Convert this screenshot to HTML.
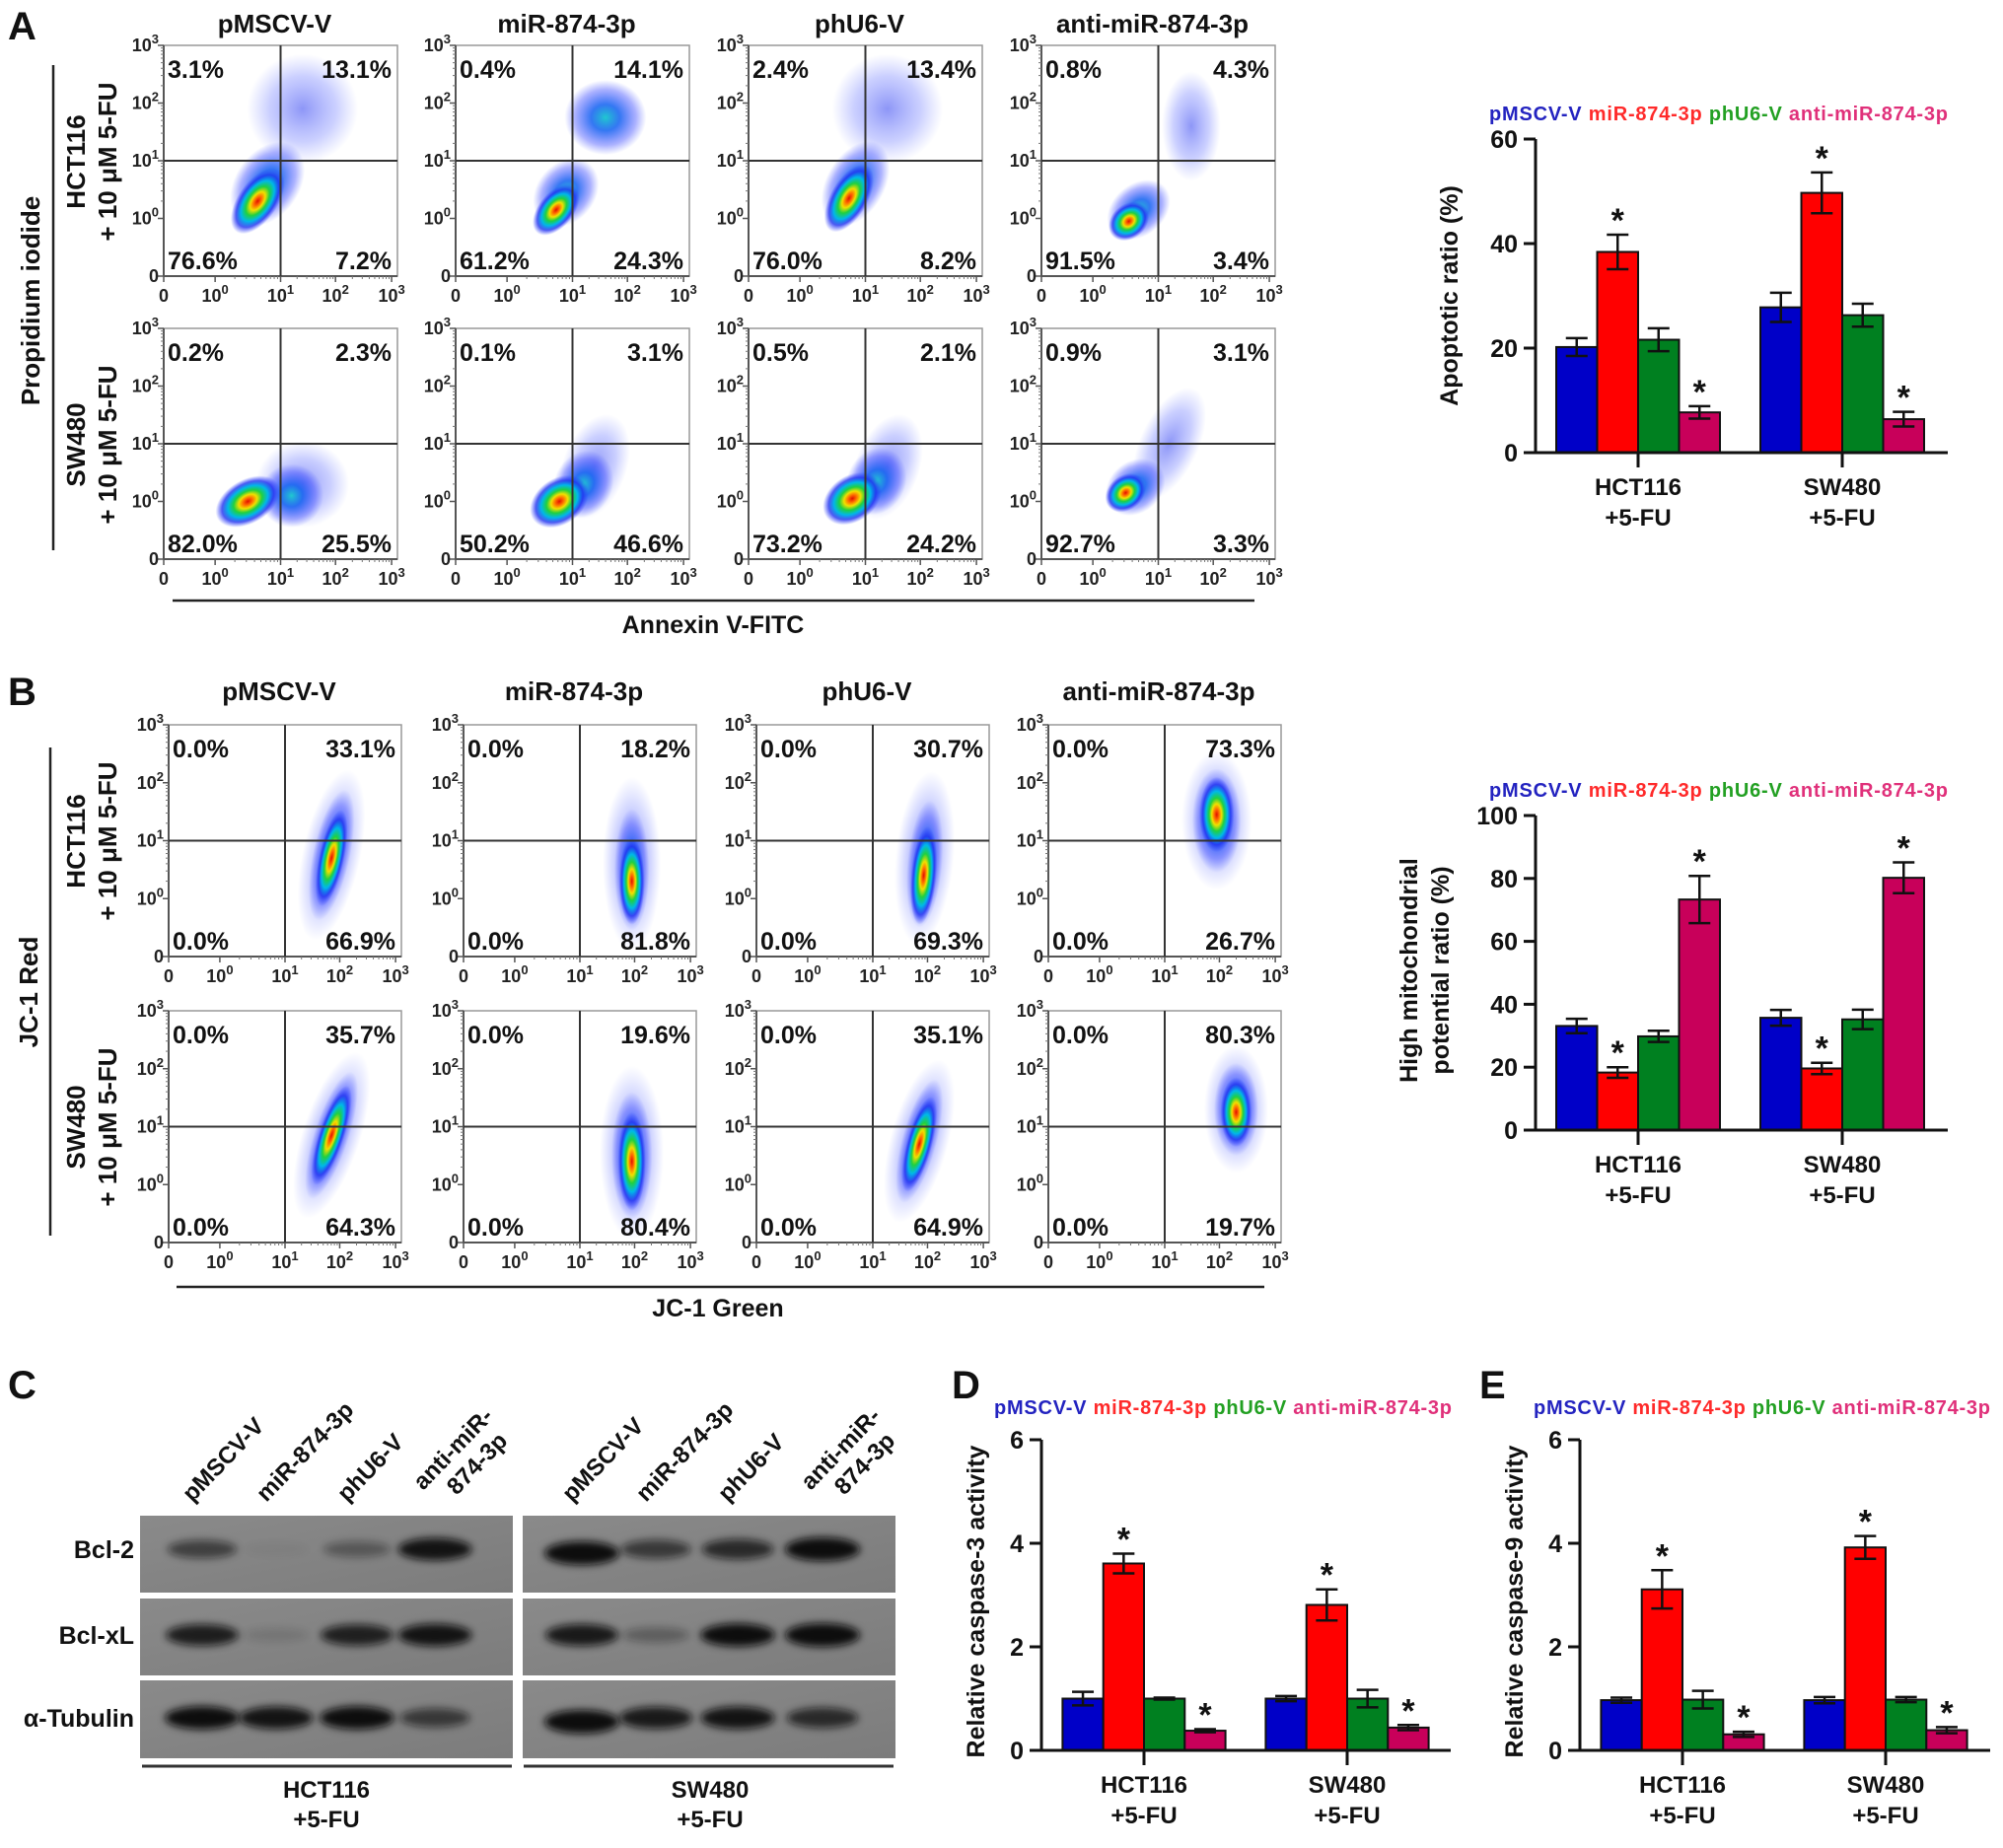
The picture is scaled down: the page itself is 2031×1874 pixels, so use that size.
<!DOCTYPE html>
<html><head><meta charset="utf-8"><title>miR-874-3p apoptosis figure</title>
<style>
html,body{margin:0;padding:0;background:#fff;}
svg{display:block;font-family:"Liberation Sans",Arial,sans-serif;}
</style></head>
<body>
<svg id="fig" xmlns="http://www.w3.org/2000/svg" width="2031" height="1874" viewBox="0 0 2031 1874">
<defs>
<radialGradient id="gCore" cx="50%" cy="50%" r="50%">
<stop offset="0" stop-color="#e01000"/>
<stop offset="0.14" stop-color="#ff6a00"/>
<stop offset="0.28" stop-color="#f0e000"/>
<stop offset="0.44" stop-color="#20d040"/>
<stop offset="0.62" stop-color="#00b8e8"/>
<stop offset="0.8" stop-color="#2030f0" stop-opacity="0.8"/>
<stop offset="1" stop-color="#3040ff" stop-opacity="0"/>
</radialGradient>
<radialGradient id="gMid" cx="50%" cy="50%" r="50%">
<stop offset="0" stop-color="#20c8d0"/>
<stop offset="0.35" stop-color="#1060f0" stop-opacity="0.85"/>
<stop offset="0.75" stop-color="#3040ff" stop-opacity="0.4"/>
<stop offset="1" stop-color="#4050ff" stop-opacity="0"/>
</radialGradient>
<radialGradient id="gHalo" cx="50%" cy="50%" r="50%">
<stop offset="0" stop-color="#3040f0" stop-opacity="0.55"/>
<stop offset="0.6" stop-color="#5060ff" stop-opacity="0.3"/>
<stop offset="1" stop-color="#6070ff" stop-opacity="0"/>
</radialGradient>
<filter id="blur" x="-50%" y="-100%" width="200%" height="300%"><feGaussianBlur stdDeviation="4"/></filter>
<linearGradient id="blotBg" x1="0" y1="0" x2="1" y2="1">
<stop offset="0" stop-color="#8a8a8a"/><stop offset="0.5" stop-color="#838383"/><stop offset="1" stop-color="#7c7c7c"/>
</linearGradient>
</defs>
</svg>
<script>
// ---------------- DATA ----------------
const seriesNames = ["pMSCV-V", "miR-874-3p", "phU6-V", "anti-miR-874-3p"];
const groupNames = ["HCT116", "SW480"];
// Panel A bar chart: apoptotic ratio (%)
const apopMean = [[20.2, 38.4, 21.6, 7.7], [27.8, 49.7, 26.3, 6.4]];
const apopErr  = [[1.7, 3.3, 2.2, 1.2], [2.8, 3.9, 2.2, 1.4]];
const apopSig  = [[0, 1, 0, 1], [0, 1, 0, 1]];
const apopTicks = [0, 20, 40, 60];
// Panel B bar chart: high mitochondrial potential ratio (%)
const mitoMean = [[33.1, 18.3, 29.8, 73.3], [35.7, 19.6, 35.2, 80.2]];
const mitoErr  = [[2.3, 1.7, 1.8, 7.5], [2.5, 1.8, 3.1, 4.9]];
const mitoSig  = [[0, 1, 0, 1], [0, 1, 0, 1]];
const mitoTicks = [0, 20, 40, 60, 80, 100];
// Panel D: relative caspase-3 activity
const casp3Mean = [[1.0, 3.61, 1.0, 0.38], [1.0, 2.81, 1.0, 0.44]];
const casp3Err  = [[0.13, 0.19, 0.02, 0.03], [0.05, 0.30, 0.17, 0.05]];
const casp3Sig  = [[0, 1, 0, 1], [0, 1, 0, 1]];
const caspTicks = [0, 2, 4, 6];
// Panel E: relative caspase-9 activity
const casp9Mean = [[0.97, 3.11, 0.98, 0.31], [0.97, 3.92, 0.98, 0.39]];
const casp9Err  = [[0.05, 0.37, 0.17, 0.05], [0.06, 0.22, 0.05, 0.06]];
const casp9Sig  = [[0, 1, 0, 1], [0, 1, 0, 1]];
// Flow quadrant percentages [UL, UR, LL, LR]
const annexinPct = [
 [[3.1,13.1,76.6,7.2],[0.4,14.1,61.2,24.3],[2.4,13.4,76.0,8.2],[0.8,4.3,91.5,3.4]],
 [[0.2,2.3,82.0,25.5],[0.1,3.1,50.2,46.6],[0.5,2.1,73.2,24.2],[0.9,3.1,92.7,3.3]]
];
const jc1Pct = [
 [[0.0,33.1,0.0,66.9],[0.0,18.2,0.0,81.8],[0.0,30.7,0.0,69.3],[0.0,73.3,0.0,26.7]],
 [[0.0,35.7,0.0,64.3],[0.0,19.6,0.0,80.4],[0.0,35.1,0.0,64.9],[0.0,80.3,0.0,19.7]]
];
// Flow density blobs [cx, cy (log-decade units 0..4), rx, ry (decades), tiltDeg, kind]
const annexinBlobs = [
 [[[2.4,2.9,0.95,0.95,0,'h'],[1.8,1.6,0.55,0.8,35,'m'],[1.65,1.3,0.34,0.65,35,'c']],
  [[2.6,2.75,0.7,0.65,0,'m'],[1.9,1.45,0.5,0.65,40,'m'],[1.75,1.15,0.3,0.52,40,'c']],
  [[2.4,2.9,0.95,0.95,0,'h'],[1.85,1.6,0.5,0.8,30,'m'],[1.75,1.35,0.32,0.65,30,'c']],
  [[2.6,2.6,0.5,0.95,0,'h'],[1.7,1.15,0.6,0.45,-40,'m'],[1.55,0.95,0.38,0.3,-40,'c']]],
 [[[2.4,1.3,0.8,0.75,0,'h'],[2.2,1.1,0.55,0.55,-30,'m'],[1.5,1.0,0.6,0.38,-30,'c']],
  [[2.4,1.6,0.55,0.95,20,'h'],[2.2,1.3,0.5,0.6,25,'m'],[1.8,1.0,0.55,0.4,-35,'c']],
  [[2.4,1.6,0.55,0.95,20,'h'],[2.2,1.35,0.5,0.6,25,'m'],[1.8,1.05,0.55,0.4,-35,'c']],
  [[2.2,2.0,0.5,1.05,25,'h'],[1.65,1.25,0.55,0.45,-40,'m'],[1.5,1.15,0.38,0.3,-40,'c']]]
];
const jc1Blobs = [
 [[[2.85,1.75,0.5,1.5,12,'h'],[2.85,1.75,0.32,1.15,12,'m'],[2.85,1.7,0.22,0.85,12,'c']],
  [[2.95,1.6,0.5,1.5,0,'h'],[2.95,1.5,0.3,1.05,0,'m'],[2.95,1.3,0.22,0.75,0,'c']],
  [[2.95,1.7,0.5,1.5,5,'h'],[2.95,1.6,0.3,1.1,5,'m'],[2.93,1.4,0.22,0.85,5,'c']],
  [[2.95,2.35,0.6,1.2,0,'h'],[2.95,2.35,0.42,0.9,0,'m'],[2.95,2.45,0.3,0.65,0,'c']]],
 [[[2.85,1.85,0.5,1.5,18,'h'],[2.85,1.85,0.3,1.15,18,'m'],[2.85,1.85,0.22,0.9,18,'c']],
  [[2.95,1.55,0.55,1.5,0,'h'],[2.95,1.5,0.35,1.1,0,'m'],[2.95,1.4,0.24,0.85,0,'c']],
  [[2.85,1.75,0.5,1.45,15,'h'],[2.85,1.75,0.3,1.1,15,'m'],[2.85,1.7,0.22,0.85,15,'c']],
  [[3.3,2.3,0.55,1.1,0,'h'],[3.3,2.3,0.38,0.8,0,'m'],[3.3,2.25,0.27,0.6,0,'c']]]
];
// Western blot band intensities (0..1) [row][lane]
const blotRows = ["Bcl-2", "Bcl-xL", "α-Tubulin"];
const blotIntensity = [
 [0.55, 0.04, 0.35, 0.9, 1.0, 0.6, 0.72, 1.0],
 [0.82, 0.12, 0.8, 0.9, 0.85, 0.3, 0.95, 1.0],
 [0.95, 0.9, 0.95, 0.6, 1.0, 0.85, 0.9, 0.72]
];

// ---------------- HELPERS ----------------
const NS = 'http://www.w3.org/2000/svg';
const svg = document.getElementById('fig');
const colors = ["#0000c8", "#ff0000", "#008020", "#c8005a"];
const legendColors = ["#2323c0", "#ff2a2a", "#22a022", "#e0307a"];
function mk(tag, attrs, parent, name) {
  const e = document.createElementNS(NS, tag);
  for (const k in attrs) e.setAttribute(k, attrs[k]);
  
  
  (parent || svg).appendChild(e);
  return e;
}
function txt(x, y, s, size, anchor, parent, name, extra) {
  const a = {x: x, y: y, 'font-size': size, 'font-weight': 'bold', 'text-anchor': anchor || 'start', fill: '#111'};
  if (extra) for (const k in extra) a[k] = extra[k];
  const t = mk('text', a, parent, name);
  t.textContent = s;
  return t;
}
function supLabel(x, y, exp, anchor, parent, name) {
  const t = mk('text', {x: x, y: y, 'font-size': 18, 'text-anchor': anchor, fill: '#222', 'font-weight': 600}, parent, name);
  if (exp === null) { t.textContent = '0'; return t; }
  t.appendChild(document.createTextNode('10'));
  const sp = document.createElementNS(NS, 'tspan');
  sp.setAttribute('dy', '-8'); sp.setAttribute('font-size', '13');
  sp.textContent = exp;
  t.appendChild(sp);
  return t;
}

// ---------------- FLOW PANELS ----------------
const decFrac = [0, 0.22, 0.5, 0.735, 0.975];
function flowPanel(L, T, W, H, pct, blobs, name) {
  const g = mk('g', {}, svg, name);
  const xs = d => {
    const i = Math.min(3, Math.floor(d)); const f = d - i;
    return L + W * (decFrac[i] + (decFrac[i + 1] - decFrac[i]) * f);
  };
  const ys = d => T + H - H * (d / 4);
  const cg = mk('g', {}, g, 'density-cloud');
  const clip = 'clip' + name;
  const cp = mk('clipPath', {id: clip}, g, 'plot-clip');
  mk('rect', {x: L, y: T, width: W, height: H}, cp, 'plot-clip-rect');
  cg.setAttribute('clip-path', 'url(#' + clip + ')');
  blobs.forEach(b => {
    const cx = xs(b[0]), cy = ys(b[1]);
    const rx = b[2] * W / 4, ry = b[3] * H / 4;
    const fill = b[5] === 'c' ? 'url(#gCore)' : (b[5] === 'm' ? 'url(#gMid)' : 'url(#gHalo)');
    mk('ellipse', {cx: cx, cy: cy, rx: rx, ry: ry, fill: fill, transform: 'rotate(' + b[4] + ' ' + cx + ' ' + cy + ')'}, cg, 'cell-density');
  });
  mk('rect', {x: L, y: T, width: W, height: H, fill: 'none', stroke: '#999', 'stroke-width': 1.5}, g, 'plot-frame');
  mk('line', {x1: L, y1: T, x2: L, y2: T + H, stroke: '#555', 'stroke-width': 2}, g, 'y-axis');
  mk('line', {x1: L, y1: T + H, x2: L + W, y2: T + H, stroke: '#555', 'stroke-width': 2}, g, 'x-axis');
  mk('line', {x1: xs(2), y1: T, x2: xs(2), y2: T + H, stroke: '#333', 'stroke-width': 2}, g, 'quadrant-vline');
  mk('line', {x1: L, y1: ys(2), x2: L + W, y2: ys(2), stroke: '#333', 'stroke-width': 2}, g, 'quadrant-hline');
  for (let i = 0; i <= 4; i++) {
    const x = L + W * decFrac[i];
    mk('line', {x1: x, y1: T + H, x2: x, y2: T + H + 6, stroke: '#555', 'stroke-width': 1.5}, g, 'x-tick');
    supLabel(x, T + H + 26, i === 0 ? null : String(i - 1), 'middle', g, 'x-tick-label');
    const y = ys(i);
    mk('line', {x1: L - 6, y1: y, x2: L, y2: y, stroke: '#555', 'stroke-width': 1.5}, g, 'y-tick');
    supLabel(L - 5, y + 6, i === 0 ? null : String(i - 1), 'end', g, 'y-tick-label');
    if (i > 0 && i < 4) {
      for (let m = 2; m < 10; m++) {
        const xm = xs(i + Math.log10(m));
        mk('line', {x1: xm, y1: T + H, x2: xm, y2: T + H + 3, stroke: '#777', 'stroke-width': 1}, g, 'x-minor-tick');
        const ym = ys(i + Math.log10(m));
        mk('line', {x1: L - 3, y1: ym, x2: L, y2: ym, stroke: '#777', 'stroke-width': 1}, g, 'y-minor-tick');
      }
    }
  }
  const f = v => v.toFixed(1) + '%';
  txt(L + 4, T + 33, f(pct[0]), 25, 'start', g, 'quadrant-ul-percent');
  txt(L + W - 6, T + 33, f(pct[1]), 25, 'end', g, 'quadrant-ur-percent');
  txt(L + 4, T + H - 7, f(pct[2]), 25, 'start', g, 'quadrant-ll-percent');
  txt(L + W - 6, T + H - 7, f(pct[3]), 25, 'end', g, 'quadrant-lr-percent');
}
function flowGrid(lefts, tops, W, H, pctArr, blobArr, prefix, titleY) {
  lefts.forEach((L, c) => {
    txt(L + W / 2 - 6, titleY, seriesNames[c], 26, 'middle', svg, prefix + '-column-title');
    tops.forEach((T, r) => flowPanel(L, T, W, H, pctArr[r][c], blobArr[r][c], prefix + '-plot-r' + r + 'c' + c));
  });
}
txt(8, 40, 'A', 40, 'start', svg, 'panel-a-label');
flowGrid([166, 462, 759, 1056], [46, 333], 237, 234, annexinPct, annexinBlobs, 'annexin', 33);
txt(40, 305, 'Propidium iodide', 26, 'middle', svg, 'pi-axis-title', {transform: 'rotate(-90 40 305)'});
mk('line', {x1: 54, y1: 66, x2: 54, y2: 558, stroke: '#222', 'stroke-width': 2.5}, svg, 'pi-bracket');
[[164, 'HCT116'], [451, 'SW480']].forEach(p => {
  txt(86, p[0], p[1], 26, 'middle', svg, 'row-label-cell', {transform: 'rotate(-90 86 ' + p[0] + ')'});
  txt(118, p[0], '+ 10 μM 5-FU', 26, 'middle', svg, 'row-label-treatment', {transform: 'rotate(-90 118 ' + p[0] + ')'});
});
mk('line', {x1: 175, y1: 609, x2: 1272, y2: 609, stroke: '#222', 'stroke-width': 2.5}, svg, 'annexin-bracket');
txt(723, 642, 'Annexin V-FITC', 25, 'middle', svg, 'annexin-axis-title');

txt(8, 715, 'B', 40, 'start', svg, 'panel-b-label');
flowGrid([171, 470, 767, 1063], [735, 1025], 236, 235, jc1Pct, jc1Blobs, 'jc1', 710);
txt(38, 1006, 'JC-1 Red', 26, 'middle', svg, 'jc1-red-axis-title', {transform: 'rotate(-90 38 1006)'});
mk('line', {x1: 51, y1: 758, x2: 51, y2: 1253, stroke: '#222', 'stroke-width': 2.5}, svg, 'jc1-bracket');
[[853, 'HCT116'], [1143, 'SW480']].forEach(p => {
  txt(86, p[0], p[1], 26, 'middle', svg, 'row-label-cell', {transform: 'rotate(-90 86 ' + p[0] + ')'});
  txt(118, p[0], '+ 10 μM 5-FU', 26, 'middle', svg, 'row-label-treatment', {transform: 'rotate(-90 118 ' + p[0] + ')'});
});
mk('line', {x1: 179, y1: 1305, x2: 1282, y2: 1305, stroke: '#222', 'stroke-width': 2.5}, svg, 'jc1-bracket-x');
txt(728, 1335, 'JC-1 Green', 25, 'middle', svg, 'jc1-green-axis-title');

// ---------------- BAR CHARTS ----------------
function barChart(cfg, means, errs, sig, ticks) {
  const g = mk('g', {}, svg, cfg.name);
  const ymax = ticks[ticks.length - 1];
  const ys = v => cfg.y0 - (cfg.y0 - cfg.yTop) * v / ymax;
  const bx = (gi, si) => cfg.c0 + gi * cfg.step + (si - 2) * cfg.bw;
  const lg = mk('text', {x: cfg.legX, y: cfg.legY, 'font-size': 20, 'font-weight': 'bold', textLength: cfg.legW, lengthAdjust: 'spacing'}, g, 'legend');
  seriesNames.forEach((s, i) => {
    const sp = document.createElementNS(NS, 'tspan');
    sp.setAttribute('fill', legendColors[i]);
    
    
    sp.textContent = s + (i < 3 ? '  ' : '');
    lg.appendChild(sp);
  });
  means.forEach((row, gi) => row.forEach((v, si) => {
    const x = bx(gi, si);
    mk('rect', {x: x, y: ys(v), width: cfg.bw, height: cfg.y0 - ys(v), fill: colors[si], stroke: '#111', 'stroke-width': 2}, g, 'bar-' + groupNames[gi] + '-' + seriesNames[si]);
    const e = errs[gi][si], cx = x + cfg.bw / 2, cw = 11;
    mk('line', {x1: cx, y1: ys(v - e), x2: cx, y2: ys(v + e), stroke: '#111', 'stroke-width': 2.5}, g, 'error-bar');
    mk('line', {x1: cx - cw, y1: ys(v + e), x2: cx + cw, y2: ys(v + e), stroke: '#111', 'stroke-width': 2.5}, g, 'error-cap-top');
    mk('line', {x1: cx - cw, y1: ys(v - e), x2: cx + cw, y2: ys(v - e), stroke: '#111', 'stroke-width': 2.5}, g, 'error-cap-bottom');
    if (sig[gi][si]) txt(cx, ys(v + e) - 3, '*', 34, 'middle', g, 'significance-asterisk');
  }));
  mk('line', {x1: cfg.ax, y1: cfg.yTop, x2: cfg.ax, y2: cfg.y0, stroke: '#111', 'stroke-width': 3}, g, 'y-axis');
  mk('line', {x1: cfg.ax, y1: cfg.y0, x2: cfg.xEnd, y2: cfg.y0, stroke: '#111', 'stroke-width': 3}, g, 'x-axis');
  ticks.forEach(t => {
    mk('line', {x1: cfg.ax - 12, y1: ys(t), x2: cfg.ax, y2: ys(t), stroke: '#111', 'stroke-width': 3}, g, 'y-tick');
    txt(cfg.ax - 18, ys(t) + 9, String(t), 25, 'end', g, 'y-tick-label');
  });
  groupNames.forEach((n, gi) => {
    const cx = cfg.c0 + gi * cfg.step;
    mk('line', {x1: cx, y1: cfg.y0, x2: cx, y2: cfg.y0 + 15, stroke: '#111', 'stroke-width': 3}, g, 'x-tick');
    txt(cx, cfg.y0 + 43, n, 24, 'middle', g, 'x-category-label');
    txt(cx, cfg.y0 + 74, '+5-FU', 24, 'middle', g, 'x-category-treatment');
  });
  cfg.ylab.forEach((l, i) => {
    const x = cfg.ylabX + i * 32;
    txt(x, cfg.ylabY, l, 25, 'middle', g, 'y-axis-title', {transform: 'rotate(-90 ' + x + ' ' + cfg.ylabY + ')'});
  });
}
barChart({name: 'apoptosis-bar-chart', ax: 1557, xEnd: 1975, y0: 459, yTop: 141, c0: 1661, step: 207, bw: 41.5,
  legX: 1510, legY: 122, legW: 465, ylab: ['Apoptotic ratio (%)'], ylabX: 1478, ylabY: 300}, apopMean, apopErr, apopSig, apopTicks);
barChart({name: 'mito-potential-bar-chart', ax: 1557, xEnd: 1975, y0: 1146, yTop: 827, c0: 1661, step: 207, bw: 41.5,
  legX: 1510, legY: 808, legW: 465, ylab: ['High mitochondrial', 'potential ratio (%)'], ylabX: 1437, ylabY: 984}, mitoMean, mitoErr, mitoSig, mitoTicks);
txt(965, 1418, 'D', 40, 'start', svg, 'panel-d-label');
barChart({name: 'caspase3-bar-chart', ax: 1056, xEnd: 1471, y0: 1775, yTop: 1460, c0: 1160, step: 206, bw: 41.3,
  legX: 1008, legY: 1434, legW: 464, ylab: ['Relative caspase-3 activity'], ylabX: 998, ylabY: 1624}, casp3Mean, casp3Err, casp3Sig, caspTicks);
txt(1500, 1418, 'E', 40, 'start', svg, 'panel-e-label');
barChart({name: 'caspase9-bar-chart', ax: 1602, xEnd: 2018, y0: 1775, yTop: 1460, c0: 1706, step: 206, bw: 41.3,
  legX: 1555, legY: 1434, legW: 463, ylab: ['Relative caspase-9 activity'], ylabX: 1544, ylabY: 1624}, casp9Mean, casp9Err, casp9Sig, caspTicks);

// ---------------- WESTERN BLOT ----------------
txt(8, 1418, 'C', 40, 'start', svg, 'panel-c-label');
const blot = mk('g', {}, svg, 'western-blot');
const blocks = [[142, 520], [530, 908]];
const rowsY = [[1537, 1615], [1621, 1699], [1704, 1783]];
const laneX = [205, 280, 362, 441, 590, 665, 748, 834];
const bandY = [1571, 1658, 1742];
blocks.forEach((b, bi) => rowsY.forEach((r, ri) => {
  mk('rect', {x: b[0], y: r[0], width: b[1] - b[0], height: r[1] - r[0], fill: 'url(#blotBg)'}, blot, 'blot-strip');
}));
blotIntensity.forEach((row, ri) => row.forEach((v, li) => {
  const cy = bandY[ri] + (li === 4 && ri !== 1 ? 4 : 0);
  mk('ellipse', {cx: laneX[li], cy: cy, rx: 32 + 6 * v, ry: 6 + 6 * v, fill: '#111', opacity: Math.min(1, v * 1.05), filter: 'url(#blur)'}, blot, 'band-' + blotRows[ri]);
}));
blotRows.forEach((n, ri) => txt(136, bandY[ri] + 9, n, 25, 'end', blot, 'blot-row-label'));
laneX.forEach((x, li) => {
  const s = seriesNames[li % 4];
  if (s === 'anti-miR-874-3p') {
    const t = mk('text', {x: x - 12, y: 1512, 'font-size': 24, 'font-weight': 'bold', fill: '#111', transform: 'rotate(-46 ' + (x - 12) + ' 1512)'}, blot, 'lane-label');
    const a = document.createElementNS(NS, 'tspan'); a.setAttribute('x', x - 12); a.textContent = 'anti-miR-'; t.appendChild(a);
    const b2 = document.createElementNS(NS, 'tspan'); b2.setAttribute('x', x + 8); b2.setAttribute('dy', '28'); b2.textContent = '874-3p'; t.appendChild(b2);
  } else {
    txt(x - 10, 1524, s, 24, 'start', blot, 'lane-label', {transform: 'rotate(-46 ' + (x - 10) + ' 1524)'});
  }
});
mk('line', {x1: 144, y1: 1791, x2: 519, y2: 1791, stroke: '#333', 'stroke-width': 3}, blot, 'hct116-bracket');
mk('line', {x1: 531, y1: 1791, x2: 906, y2: 1791, stroke: '#333', 'stroke-width': 3}, blot, 'sw480-bracket');
txt(331, 1823, 'HCT116', 24, 'middle', blot, 'blot-group-label');
txt(331, 1853, '+5-FU', 24, 'middle', blot, 'blot-group-treatment');
txt(720, 1823, 'SW480', 24, 'middle', blot, 'blot-group-label');
txt(720, 1853, '+5-FU', 24, 'middle', blot, 'blot-group-treatment');
</script>
</body></html>
